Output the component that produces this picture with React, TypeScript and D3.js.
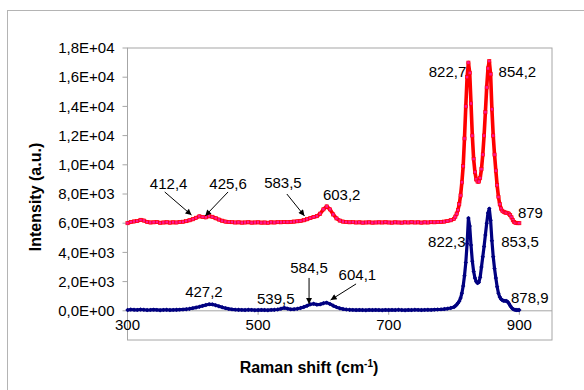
import React from "react";
import * as d3 from "d3";

// Raman shift (cm-1) sampling points, shared by both spectra
const ramanShift = [
  300, 305, 310, 315, 320, 325, 330, 335, 340, 345,
  350, 355, 360, 365, 370, 375, 380, 385, 390, 395,
  400, 405, 410, 415, 420, 425, 430, 435, 440, 445,
  450, 455, 460, 465, 470, 475, 480, 485, 490, 495,
  500, 505, 510, 515, 520, 525, 530, 535, 540, 545,
  550, 555, 560, 565, 570, 575, 580, 585, 590, 595,
  600, 605, 610, 615, 620, 625, 630, 635, 640, 645,
  650, 655, 660, 665, 670, 675, 680, 685, 690, 695,
  700, 705, 710, 715, 720, 725, 730, 735, 740, 745,
  750, 755, 760, 765, 770, 775, 780, 785, 790, 795,
  800, 802, 804, 806, 808, 810, 812, 814, 816, 818,
  820, 822, 824, 826, 828, 830, 832, 834, 836, 838,
  840, 842, 844, 846, 848, 850, 852, 854, 856, 858,
  860, 862, 864, 866, 868, 870, 872, 874, 876, 878,
  880, 882, 884, 886, 888, 890, 892, 894, 896, 898,
  900,
];

// upper (red) spectrum
const redIntensity = [
  6000, 6080, 6120, 6150, 6230, 6180, 6090, 6050, 6060, 6080,
  6030, 6050, 6070, 6040, 6060, 6050, 6080, 6100, 6140, 6200,
  6270, 6370, 6470, 6430, 6400, 6480, 6440, 6340, 6250, 6170,
  6110, 6080, 6070, 6050, 6060, 6040, 6050, 6070, 6040, 6050,
  6060, 6040, 6050, 6030, 6060, 6050, 6070, 6060, 6080, 6070,
  6090, 6110, 6130, 6160, 6200, 6270, 6350, 6420, 6480, 6650,
  6950, 7150, 6950, 6600, 6330, 6180, 6110, 6080, 6060, 6070,
  6050, 6060, 6040, 6050, 6060, 6040, 6050, 6060, 6050, 6070,
  6050, 6040, 6060, 6050, 6040, 6060, 6050, 6070, 6050, 6060,
  6040, 6060, 6050, 6070, 6060, 6080, 6090, 6110, 6150, 6200,
  6300, 6450, 6650, 6900, 7300, 7900, 8800, 9900, 11800, 14000,
  16000, 17000, 16300, 14200, 12000, 10400, 9500, 9000, 8850, 8850,
  9100, 9700, 10700, 12000, 13600, 15300, 16600, 17100, 16200, 13800,
  12000, 10700, 9600, 8600, 7800, 7300, 7000, 6850, 6780, 6740,
  6720, 6700, 6650, 6550, 6400, 6200, 6080, 6030, 6010, 6000,
  6000,
];

// lower (blue) spectrum
const blueIntensity = [
  50, 90, 70, 60, 90, 70, 50, 60, 80, 60,
  40, 60, 70, 50, 60, 70, 80, 90, 110, 140,
  180, 230, 280, 340, 400, 450, 440, 380, 310, 240,
  180, 130, 100, 80, 70, 60, 50, 70, 60, 40,
  50, 60, 50, 40, 60, 70, 90, 140, 200, 150,
  100, 110, 140, 190, 260, 350, 440, 480, 420, 440,
  520, 560, 470, 350, 250, 170, 120, 90, 70, 60,
  50, 60, 50, 40, 60, 50, 60, 50, 40, 60,
  50, 60, 50, 70, 50, 40, 60, 50, 70, 60,
  50, 60, 70, 60, 80, 90, 100, 120, 150, 190,
  260, 330, 420, 530, 660, 870, 1200, 1700, 2400, 3300,
  4600, 6350, 5800, 4500, 3400, 2700, 2250, 2000, 1900, 1950,
  2300, 3000, 3700, 4400, 5200, 6000, 6700, 7000, 6200, 4800,
  3700, 2900, 2250, 1650, 1200, 950, 800, 720, 690, 680,
  670, 620, 500, 350, 220, 130, 80, 60, 50, 50,
  50,
];

const xTicks = [300, 500, 700, 900];
const yTicks = [0, 2000, 4000, 6000, 8000, 10000, 12000, 14000, 16000, 18000];

// peak labels, placed in data coordinates
const peakLabels = [
  { text: "412,4", x: 363, y: 8700 },
  { text: "425,6", x: 454, y: 8700 },
  { text: "583,5", x: 538, y: 8750 },
  { text: "603,2", x: 628, y: 7950 },
  { text: "822,7", x: 790, y: 16350 },
  { text: "854,2", x: 897, y: 16350 },
  { text: "879", x: 917, y: 6700 },
  { text: "822,3", x: 789, y: 4700 },
  { text: "853,5", x: 901, y: 4700 },
  { text: "878,9", x: 916, y: 880 },
  { text: "427,2", x: 417, y: 1290 },
  { text: "539,5", x: 527, y: 810 },
  { text: "584,5", x: 578, y: 2930 },
  { text: "604,1", x: 652, y: 2450 },
];

// arrows: from (x1,y1) to tip (x2,y2), data coordinates
const peakArrows = [
  { x1: 357, y1: 8140, x2: 398, y2: 6560 },
  { x1: 454, y1: 8140, x2: 419, y2: 6500 },
  { x1: 544, y1: 8000, x2: 571, y2: 6500 },
  { x1: 578, y1: 2250, x2: 578, y2: 470 },
  { x1: 650, y1: 1840, x2: 611, y2: 740 },
];

const fmtSci = (v: number) => {
  const [m, e] = v.toExponential(1).split("e");
  const sign = e[0] === "-" ? "-" : "+";
  const digits = e.replace(/[+-]/, "").padStart(2, "0");
  return m.replace(".", ",") + "E" + sign + digits;
};

export default function App() {
  const width = 584;
  const height = 390;
  const font = "'Liberation Sans', Arial, sans-serif";

  const x = d3.scaleLinear().domain([300, 950]).range([127.5, 552]);
  const y = d3.scaleLinear().domain([-2000, 18000]).range([340, 48]);

  const redPts = ramanShift.map((s, i) => [s, redIntensity[i]] as [number, number]);
  const bluePts = ramanShift.map((s, i) => [s, blueIntensity[i]] as [number, number]);

  const lineGen = d3
    .line<[number, number]>()
    .x((d) => x(d[0]))
    .y((d) => y(d[1]));

  const x0 = x.range()[0];
  const x1 = x.range()[1];
  const yTop = y.range()[1];
  const yBot = y.range()[0];

  return (
    <svg
      width={width}
      height={height}
      style={{ position: "absolute", left: 0, top: 0, background: "#fff" }}
    >
      <defs>
        <marker
          id="arrowHead"
          viewBox="0 0 10 10"
          refX="10"
          refY="5"
          markerWidth="8"
          markerHeight="6"
          markerUnits="userSpaceOnUse"
          orient="auto"
        >
          <path d="M0,0 L10,5 L0,10 z" fill="#000" />
        </marker>
      </defs>

      {/* chart area border */}
      <rect x={7.5} y={10.5} width={640} height={420} fill="none" stroke="#b4b4b4" />

      {/* plot frame */}
      <rect x={x0} y={yTop} width={x1 - x0} height={yBot - yTop} fill="none" stroke="#a6a6a6" />

      {/* zero line (x axis) */}
      <line x1={x0} x2={x1} y1={y(0)} y2={y(0)} stroke="#a6a6a6" />
      {xTicks.map((t) => (
        <g key={"xt" + t}>
          <line x1={x(t)} x2={x(t)} y1={y(0)} y2={y(0) + 4} stroke="#a6a6a6" />
          <text
            x={x(t)}
            y={y(0) + 19}
            fontFamily={font}
            fontSize={15}
            textAnchor="middle"
            fill="#000"
          >
            {t}
          </text>
        </g>
      ))}

      {yTicks.map((t) => (
        <g key={"yt" + t}>
          <line x1={x0 - 5} x2={x0} y1={y(t)} y2={y(t)} stroke="#a6a6a6" />
          <text
            x={x0 - 13}
            y={y(t)}
            dy="0.35em"
            fontFamily={font}
            fontSize={15}
            textAnchor="end"
            fill="#000"
          >
            {fmtSci(t)}
          </text>
        </g>
      ))}

      {/* axis titles */}
      <text
        transform={`translate(35,197) rotate(-90)`}
        textAnchor="middle"
        dy="0.35em"
        fontFamily={font}
        fontSize={16}
        fontWeight="bold"
      >
        Intensity (a.u.)
      </text>
      <text
        x={309}
        y={367}
        dy="0.35em"
        textAnchor="middle"
        fontFamily={font}
        fontSize={16}
        fontWeight="bold"
      >
        Raman shift (cm
        <tspan fontSize={10} dy="-6">
          -1
        </tspan>
        <tspan dy="6">)</tspan>
      </text>

      {/* blue spectrum */}
      <path
        d={lineGen(bluePts) || ""}
        fill="none"
        stroke="#000080"
        strokeWidth={3.2}
        strokeLinejoin="round"
      />
      {bluePts.map((p, i) => {
        const cx = x(p[0]);
        const cy = y(p[1]);
        const r = 2.2;
        return (
          <path
            key={"b" + i}
            d={`M${cx},${cy - r}L${cx + r},${cy}L${cx},${cy + r}L${cx - r},${cy}Z`}
            fill="#000080"
          />
        );
      })}

      {/* red spectrum */}
      <path
        d={lineGen(redPts) || ""}
        fill="none"
        stroke="#ff0000"
        strokeWidth={3.6}
        strokeLinejoin="round"
      />
      {redPts.map((p, i) => (
        <rect
          key={"r" + i}
          x={x(p[0]) - 1.6}
          y={y(p[1]) - 1.6}
          width={3.2}
          height={3.2}
          fill="#ff1493"
          stroke="#ff0000"
          strokeWidth={0.6}
        />
      ))}

      {/* arrows */}
      {peakArrows.map((a, i) => (
        <line
          key={"a" + i}
          x1={x(a.x1)}
          y1={y(a.y1)}
          x2={x(a.x2)}
          y2={y(a.y2)}
          stroke="#000"
          strokeWidth={1}
          markerEnd="url(#arrowHead)"
        />
      ))}

      {/* peak labels */}
      {peakLabels.map((l) => (
        <text
          key={l.text}
          x={x(l.x)}
          y={y(l.y)}
          dy="0.35em"
          textAnchor="middle"
          fontFamily={font}
          fontSize={15}
          fill="#000"
        >
          {l.text}
        </text>
      ))}
    </svg>
  );
}
